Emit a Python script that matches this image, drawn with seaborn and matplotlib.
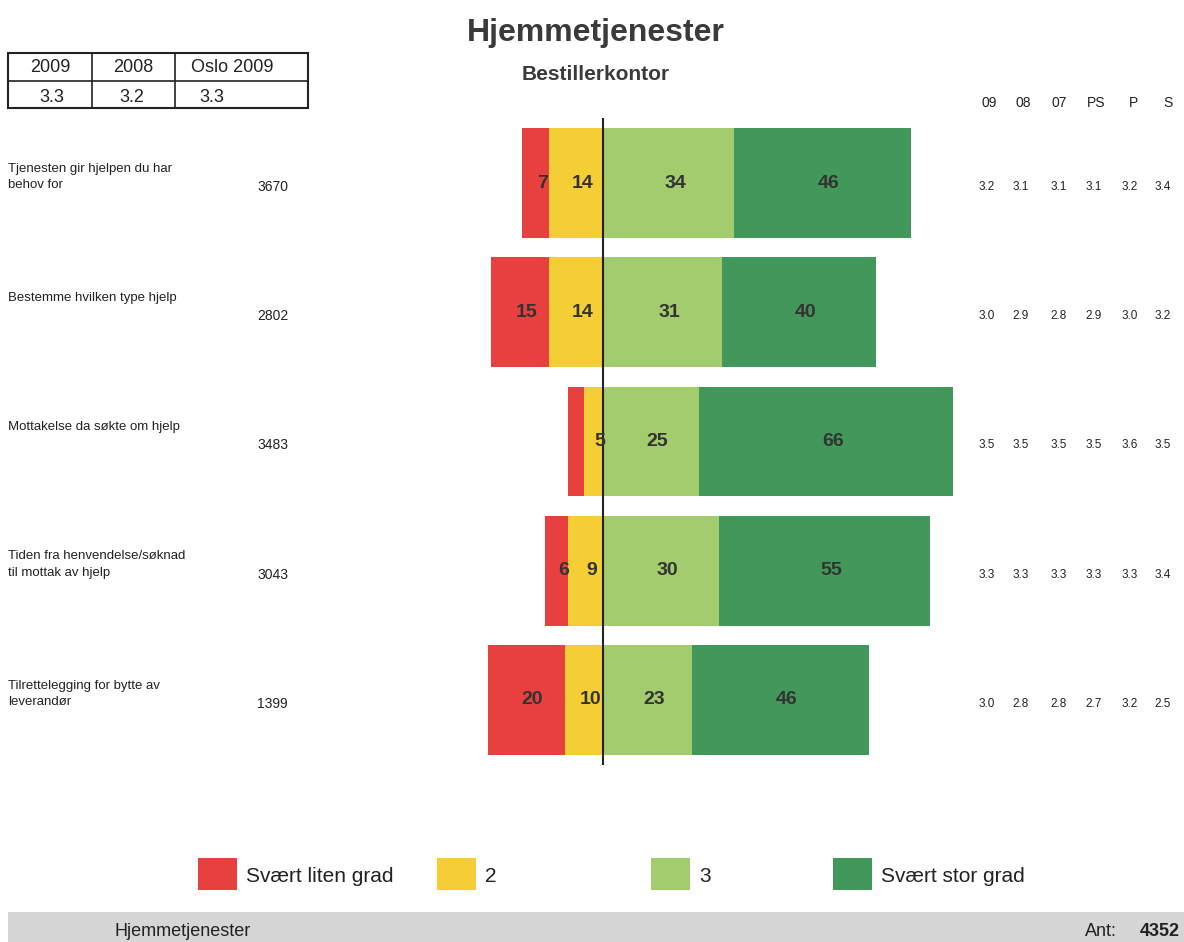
import pandas as pd
import numpy as np
import seaborn as sns
import matplotlib.pyplot as plt
from matplotlib.patches import Rectangle
from matplotlib.lines import Line2D

# Data
questions = ["Tjenesten gir hjelpen du har\nbehov for",
             "Bestemme hvilken type hjelp\n",
             "Mottakelse da søkte om hjelp\n",
             "Tiden fra henvendelse/søknad\ntil mottak av hjelp",
             "Tilrettelegging for bytte av\nleverandør"]
n_answers = [3670, 2802, 3483, 3043, 1399]
svaert_liten = [7, 15, 4, 6, 20]
grad_2 = [14, 14, 5, 9, 10]
grad_3 = [34, 31, 25, 30, 23]
svaert_stor = [46, 40, 66, 55, 46]

# Averages on the right side
col_heads = ["09", "08", "07", "PS", "P", "S"]
averages = [["3.2", "3.1", "3.1", "3.1", "3.2", "3.4"],
            ["3.0", "2.9", "2.8", "2.9", "3.0", "3.2"],
            ["3.5", "3.5", "3.5", "3.5", "3.6", "3.5"],
            ["3.3", "3.3", "3.3", "3.3", "3.3", "3.4"],
            ["3.0", "2.8", "2.8", "2.7", "3.2", "2.5"]]

# Summary table top left
table_heads = ["2009", "2008", "Oslo 2009"]
table_vals = ["3.3", "3.2", "3.3"]

legend_labels = ["Svært liten grad", "2", "3", "Svært stor grad"]
colors = ["#e8403f", "#f5cd35", "#a2cc6d", "#42985a"]

df = pd.DataFrame({
    "question": questions,
    "liten": svaert_liten,
    "to": grad_2,
    "tre": grad_3,
    "stor": svaert_stor,
})
# cumulative widths for the diverging stack
df["neg_total"] = -(df["liten"] + df["to"])
df["neg_inner"] = -df["to"]
df["pos_total"] = df["tre"] + df["stor"]
df["pos_inner"] = df["tre"]

sns.set_theme(style="white")
plt.rcParams["font.family"] = ["Liberation Sans", "DejaVu Sans"]

W, H = 1184, 942
fig = plt.figure(figsize=(W / 100, H / 100), dpi=100)
ax = fig.add_axes([0, 0, 1, 1])


def fx(x):
    return x / W


def fy(y):
    return 1 - y / H


# Draw the stacked bars, longest first so the inner parts sit on top
for col, c in [("neg_total", colors[0]), ("neg_inner", colors[1]),
               ("pos_total", colors[3]), ("pos_inner", colors[2])]:
    sns.barplot(data=df, x=col, y="question", orient="h", color=c,
                width=0.85, errorbar=None, saturation=1, linewidth=0,
                ax=ax)

px_per_pct = 3.85
ax.set_xlim(-603 / px_per_pct, (W - 603) / px_per_pct)
row_gap = 129.25
ax.set_ylim((H - 183) / row_gap, -183 / row_gap)
ax.axis("off")

# zero line
ax.vlines(0, -0.5, 4.5, color="#222222", linewidth=1.5)

# value labels inside the segments (sit a little right of centre)
shift = 1.7
for i, r in df.iterrows():
    segs = [(-r["to"] - r["liten"] / 2, r["liten"]),
            (-r["to"] / 2, r["to"]),
            (r["tre"] / 2, r["tre"]),
            (r["tre"] + r["stor"] / 2, r["stor"])]
    for xc, v in segs:
        if v >= 5:
            ax.text(xc + shift, i, str(v), ha="center", va="center",
                    fontsize=14, fontweight="bold", color="#333333")

# question texts, counts and averages
for i in range(len(questions)):
    yc = 183 + row_gap * i
    fig.text(fx(8), fy(yc - 6), questions[i], ha="left", va="center",
             fontsize=9.5, color="#222222", linespacing=1.55)
    fig.text(fx(288), fy(yc + 4), str(n_answers[i]), ha="right", va="center",
             fontsize=10, color="#222222")
    for j, xc in enumerate([987, 1021, 1059, 1094, 1130, 1163]):
        fig.text(fx(xc), fy(yc + 4), averages[i][j], ha="center", va="center",
                 fontsize=8.5, color="#222222")

for j, xc in enumerate([989, 1023, 1059, 1096, 1134, 1168]):
    fig.text(fx(xc), fy(103), col_heads[j], ha="center", va="center",
             fontsize=10, color="#222222")

# titles
fig.text(fx(596), fy(33), "Hjemmetjenester", ha="center", va="center",
         fontsize=23, fontweight="bold", color="#3a3a3a")
fig.text(fx(596), fy(75), "Bestillerkontor", ha="center", va="center",
         fontsize=15, fontweight="bold", color="#3a3a3a")

# small summary table
x0, x1, y0, y1, ym = 8, 308, 53, 108, 81
fig.add_artist(Rectangle((fx(x0), fy(y1)), fx(x1 - x0), (y1 - y0) / H,
                         fill=False, edgecolor="#222222", linewidth=1.5,
                         transform=fig.transFigure))
fig.add_artist(Line2D([fx(x0), fx(x1)], [fy(ym), fy(ym)], color="#222222",
                      linewidth=1.2, transform=fig.transFigure))
for xv in [92, 175]:
    fig.add_artist(Line2D([fx(xv), fx(xv)], [fy(y0), fy(y1)], color="#222222",
                          linewidth=1.2, transform=fig.transFigure))
for txt, xc in zip(table_heads, [50, 133, 232]):
    fig.text(fx(xc), fy(68), txt, ha="center", va="center", fontsize=13,
             color="#222222")
for txt, xc in zip(table_vals, [52, 132, 212]):
    fig.text(fx(xc), fy(98), txt, ha="center", va="center", fontsize=13,
             color="#222222")

# legend
for lab, c, xs in zip(legend_labels, colors, [198, 437, 651, 833]):
    fig.add_artist(Rectangle((fx(xs), fy(890)), fx(39), 32 / H,
                             facecolor=c, edgecolor="none",
                             transform=fig.transFigure))
    fig.text(fx(xs + 48), fy(876), lab, ha="left", va="center", fontsize=15,
             color="#222222")

# footer band
fig.add_artist(Rectangle((fx(8), 0), fx(W - 8), 30 / H, facecolor="#d6d6d6",
                         edgecolor="none", transform=fig.transFigure))
fig.text(fx(115), fy(932), "Hjemmetjenester", ha="left", va="center",
         fontsize=13, color="#222222")
fig.text(fx(1085), fy(932), "Ant:", ha="left", va="center",
         fontsize=13, color="#222222")
fig.text(fx(1180), fy(932), "4352", ha="right", va="center",
         fontsize=13, fontweight="bold", color="#222222")

fig.savefig("out.png", dpi=100)
